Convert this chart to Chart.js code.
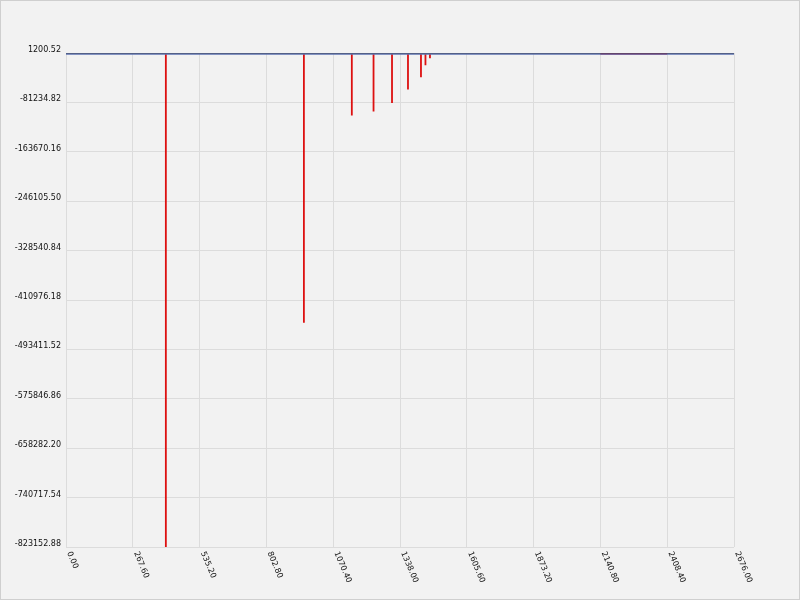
<!DOCTYPE html>
<html>
<head>
<meta charset="utf-8">
<script src="https://cdn.jsdelivr.net/npm/chart.js@4/dist/chart.umd.min.js"></script>
<style>
  html, body { margin: 0; padding: 0; background: #f2f2f2; }
  #wrap { width: 800px; height: 600px; }
</style>
</head>
<body>
<div id="wrap"><canvas id="chart" width="800" height="600"></canvas></div>
<script>
// tick labels as shown on the axes
const xTickLabels = ['0.00', '267.60', '535.20', '802.80', '1070.40', '1338.00', '1605.60', '1873.20', '2140.80', '2408.40', '2676.00'];
const yTickLabels = ['1200.52', '-81234.82', '-163670.16', '-246105.50', '-328540.84', '-410976.18',
                     '-493411.52', '-575846.86', '-658282.20', '-740717.54', '-823152.88'];

// red drops (x position, lowest value)
const spikeX = [400, 953, 1145, 1232, 1306, 1370, 1422, 1440, 1458];
const spikeY = [-823152.88, -449100, -103100, -96400, -82300, -59500, -39400, -19300, -7500];

// flat series
const baseX = [0, 2676];
const baseY = [0, 0];
const topY = [1200.52, 1200.52];
const overlapX = [2140.8, 2408.4];
const overlapY = [300, 300];

const xTicks = xTickLabels.map(Number);
const yTicks = yTickLabels.map(Number);

const spikePoints = [];
spikeX.forEach((x, i) => {
    spikePoints.push({ x: x, y: 0 });
    spikePoints.push({ x: x, y: spikeY[i] });
    spikePoints.push({ x: x, y: null });
});

const FONT = '8px "DejaVu Sans"';

const frame = {
    id: 'frame',
    beforeDraw(chart) {
        const c = chart.ctx;
        c.save();
        c.fillStyle = '#f2f2f2';
        c.fillRect(0, 0, chart.width, chart.height);
        c.restore();
    },
    afterDraw(chart) {
        const c = chart.ctx;
        const xs = chart.scales.x;
        const ys = chart.scales.y;
        const bottom = chart.chartArea.bottom;
        c.save();
        c.fillStyle = '#111';
        c.font = FONT;

        c.textAlign = 'right';
        c.textBaseline = 'middle';
        yTicks.forEach((v, i) => {
            c.fillText(yTickLabels[i], 61, ys.getPixelForValue(v) - 3);
        });

        c.textAlign = 'left';
        c.textBaseline = 'middle';
        xTicks.forEach((v, i) => {
            c.save();
            c.translate(xs.getPixelForValue(v) + 3, bottom + 5);
            c.rotate(67 * Math.PI / 180);
            c.fillText(xTickLabels[i], 0, 0);
            c.restore();
        });

        c.strokeStyle = '#cfcfcf';
        c.lineWidth = 1;
        c.strokeRect(0.5, 0.5, chart.width - 1, chart.height - 1);
        c.restore();
    }
};

new Chart(document.getElementById('chart'), {
    type: 'line',
    data: {
        datasets: [
            {
                label: 'top',
                data: baseX.map((x, i) => ({ x: x, y: topY[i] })),
                borderColor: '#4a4f5e',
                borderWidth: 1,
                order: 0
            },
            {
                label: 'overlap',
                data: overlapX.map((x, i) => ({ x: x, y: overlapY[i] })),
                borderColor: '#7a3d78',
                borderWidth: 2,
                order: 1
            },
            {
                label: 'base',
                data: baseX.map((x, i) => ({ x: x, y: baseY[i] })),
                borderColor: '#5c72b0',
                borderWidth: 2,
                order: 2
            },
            {
                label: 'drops',
                data: spikePoints,
                borderColor: '#dd1111',
                borderWidth: 1.8,
                spanGaps: false,
                order: 3
            }
        ]
    },
    options: {
        responsive: false,
        animation: false,
        events: [],
        layout: { padding: { left: 66, right: 66, top: 53, bottom: 53 } },
        elements: { point: { radius: 0 }, line: { tension: 0, borderCapStyle: 'butt' } },
        plugins: { legend: { display: false }, tooltip: { enabled: false } },
        scales: {
            x: {
                type: 'linear',
                min: 0,
                max: 2676,
                afterBuildTicks: (scale) => { scale.ticks = xTicks.map(v => ({ value: v })); },
                ticks: { display: false },
                grid: { color: '#dcdcdc', lineWidth: 1, drawTicks: false },
                border: { display: false }
            },
            y: {
                type: 'linear',
                min: -823152.88,
                max: 1200.52,
                afterBuildTicks: (scale) => { scale.ticks = yTicks.map(v => ({ value: v })); },
                ticks: { display: false },
                grid: { color: '#dcdcdc', lineWidth: 1, drawTicks: false },
                border: { display: false }
            }
        }
    },
    plugins: [frame]
});
</script>
</body>
</html>
